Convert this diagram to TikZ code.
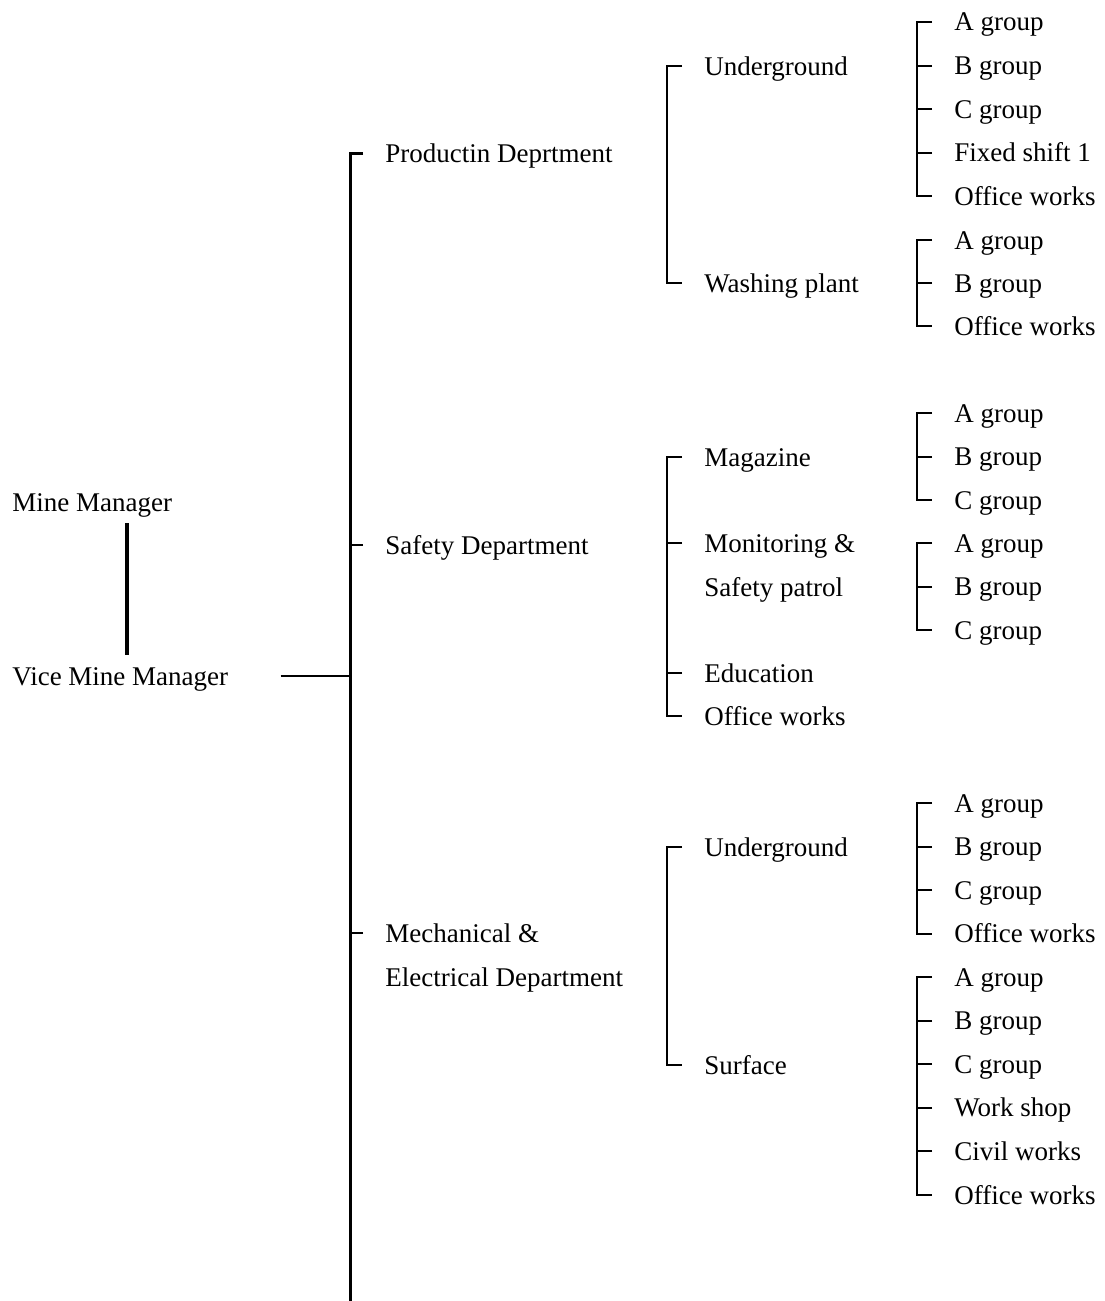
\documentclass[tikz,border=0pt]{standalone}
\usepackage{fontspec}
\setmainfont{Liberation Serif}
\usepackage{tikz}

\begin{document}
\begin{tikzpicture}[
      x=0.5pt, y=-0.5pt,
      font=\fontsize{13.5}{16}\selectfont,
      head/.style={anchor=west, inner xsep=0pt, inner ysep=5pt, text height=10pt, text depth=1pt},
      unit/.style={anchor=west, inner xsep=11pt, inner ysep=0pt, text height=10pt, text depth=1pt},
      bar/.style={line width=1.5pt},
      brk/.style={line width=1pt},
      link/.style={line width=0.8pt}
    ]
      \useasboundingbox (0,0) rectangle (1104,1301);

      % Managers
      \node[head] (mine) at (12,502) {Mine Manager};
      \node[head] (vice) at (12,676) {Vice Mine Manager};
      \draw[line width=1.8pt] ([xshift=17.5pt]mine.south) -- ([xshift=17.5pt]mine.south |- vice.north);
      \coordinate (barend) at (350,1301);
      \draw[link] ([xshift=26pt]vice.east) -- (vice.east -| barend);

      % Departments
      \node[unit] (prod) at (363,153) {Productin Deprtment};
      \node[unit] (safety) at (363,545) {Safety Department};
      \node[unit] (mech) at (363,933) {Mechanical \&};
      \node[unit] (mech-b) at (363,977) {Electrical Department};
      \draw[bar] (prod.west) -- ++(-13,0) -- (barend);
      \draw[brk] (safety.west) -- ++(-13,0);
      \draw[brk] (mech.west) -- ++(-13,0);

      % Sections
      \node[unit] (ug1) at (682,66) {Underground};
      \node[unit] (wash) at (682,283) {Washing plant};
      \draw[brk] (ug1.west) -- ++(-15,0) |- (wash.west);

      \node[unit] (mag) at (682,457) {Magazine};
      \node[unit] (mon) at (682,543) {Monitoring \&};
      \node[unit] (mon-b) at (682,587) {Safety patrol};
      \node[unit] (edu) at (682,673) {Education};
      \node[unit] (off) at (682,716) {Office works};
      \draw[brk] (mag.west) -- ++(-15,0) |- (off.west);
      \draw[brk] (mon.west) -- ++(-15,0);
      \draw[brk] (edu.west) -- ++(-15,0);

      \node[unit] (ug2) at (682,847) {Underground};
      \node[unit] (surf) at (682,1065) {Surface};
      \draw[brk] (ug2.west) -- ++(-15,0) |- (surf.west);

      % Groups
      \foreach \txt [count=\i] in {A group, B group, C group, Fixed shift 1, Office works}
        \node[unit] (ga-\i) at (932,{22+43.5*(\i-1)}) {\txt};
      \foreach \txt [count=\i] in {A group, B group, Office works}
        \node[unit] (gb-\i) at (932,{240+43*(\i-1)}) {\txt};
      \foreach \txt [count=\i] in {A group, B group, C group}
        \node[unit] (gc-\i) at (932,{413+43.5*(\i-1)}) {\txt};
      \foreach \txt [count=\i] in {A group, B group, C group}
        \node[unit] (gd-\i) at (932,{543+43.5*(\i-1)}) {\txt};
      \foreach \txt [count=\i] in {A group, B group, C group, Office works}
        \node[unit] (ge-\i) at (932,{803+43.5*(\i-1)}) {\txt};
      \foreach \txt [count=\i] in {A group, B group, C group, Work shop, Civil works, Office works}
        \node[unit] (gf-\i) at (932,{977+43.6*(\i-1)}) {\txt};

      % Group brackets
      \draw[brk] (ga-1.west) -- ++(-15,0) |- (ga-5.west);
      \foreach \i in {2,3,4} \draw[brk] (ga-\i.west) -- ++(-15,0);
      \draw[brk] (gb-1.west) -- ++(-15,0) |- (gb-3.west);
      \draw[brk] (gb-2.west) -- ++(-15,0);
      \draw[brk] (gc-1.west) -- ++(-15,0) |- (gc-3.west);
      \draw[brk] (gc-2.west) -- ++(-15,0);
      \draw[brk] (gd-1.west) -- ++(-15,0) |- (gd-3.west);
      \draw[brk] (gd-2.west) -- ++(-15,0);
      \draw[brk] (ge-1.west) -- ++(-15,0) |- (ge-4.west);
      \foreach \i in {2,3} \draw[brk] (ge-\i.west) -- ++(-15,0);
      \draw[brk] (gf-1.west) -- ++(-15,0) |- (gf-6.west);
      \foreach \i in {2,...,5} \draw[brk] (gf-\i.west) -- ++(-15,0);
    \end{tikzpicture}
\end{document}
